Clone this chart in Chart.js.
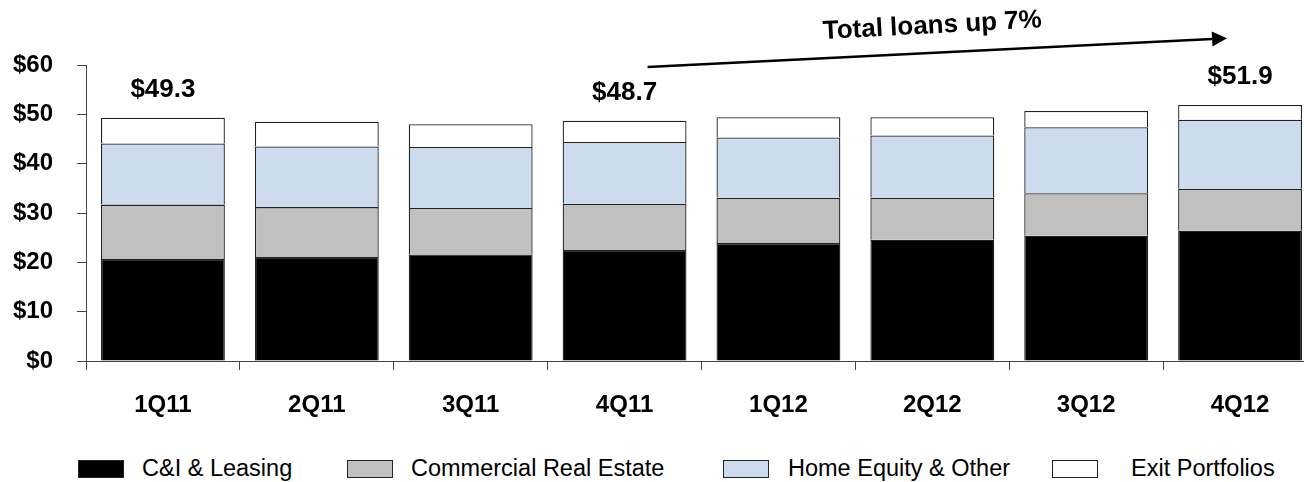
<!DOCTYPE html>
<html>
<head>
<meta charset="utf-8">
<script src="https://cdn.jsdelivr.net/npm/chart.js@4.4.1/dist/chart.umd.min.js"></script>
<style>
    html, body { margin: 0; padding: 0; background: #fff; overflow: hidden; width: 1304px; height: 482px; }
    #wrap { position: absolute; left: 0; top: 0; width: 1318px; height: 430px; }
    #legend { position: absolute; left: 0; top: 458px; width: 1304px; height: 22px; font-family: "Liberation Sans", Arial, sans-serif; font-size: 23.5px; color: #000; }
    .lg-box { position: absolute; top: 2px; width: 44px; height: 16px; border: 1px solid #222; }
    .lg-text { position: absolute; top: -2px; line-height: 24px; white-space: nowrap; }
</style>
</head>
<body>
<div id="wrap"><canvas id="loansChart"></canvas></div>
<div id="legend"></div>
<script>
const quarters = ['1Q11', '2Q11', '3Q11', '4Q11', '1Q12', '2Q12', '3Q12', '4Q12'];
const ciLeasing = [20.7, 21.1, 21.6, 22.5, 23.9, 24.6, 25.4, 26.4];
const commercialRE = [11.0, 10.1, 9.4, 9.4, 9.2, 8.5, 8.6, 8.5];
const homeEquity = [12.4, 12.3, 12.4, 12.5, 12.2, 12.6, 13.4, 14.0];
const exitPortfolios = [5.2, 5.0, 4.6, 4.3, 4.1, 3.7, 3.3, 3.0];
const yTicks = [0, 10, 20, 30, 40, 50, 60];
const totalLabelIdx = [0, 3, 7];
const arrowNote = 'Total loans up 7%';

const seriesNames = ['C&I & Leasing', 'Commercial Real Estate', 'Home Equity & Other', 'Exit Portfolios'];
const seriesColors = ['#000000', '#c0c0c0', '#ccdcee', '#ffffff'];
const seriesData = [ciLeasing, commercialRE, homeEquity, exitPortfolios];

const FONT = '"Liberation Sans", Arial, sans-serif';

// totals on top of selected bars + the growth arrow
const annotations = {
    id: 'annotations',
    afterDraw(chart) {
        const ctx = chart.ctx;
        const x = chart.scales.x;
        const y = chart.scales.y;
        ctx.save();
        ctx.fillStyle = '#000';
        ctx.font = 'bold 26px ' + FONT;
        ctx.textAlign = 'center';
        ctx.textBaseline = 'middle';
        totalLabelIdx.forEach(i => {
            const total = seriesData.reduce((s, arr) => s + arr[i], 0);
            ctx.fillText('$' + total.toFixed(1), x.getPixelForValue(i), y.getPixelForValue(total) - 28);
        });

        // arrow from 4Q11 to 4Q12
        const x0 = x.getPixelForValue(3) + 23, y0 = y.getPixelForValue(59.6);
        const x1 = x.getPixelForValue(7) - 13, y1 = y.getPixelForValue(65.4);
        const ang = Math.atan2(y1 - y0, x1 - x0);
        const headLen = 15, headW = 7.5;
        ctx.strokeStyle = '#000';
        ctx.lineWidth = 2.5;
        ctx.beginPath();
        ctx.moveTo(x0, y0);
        ctx.lineTo(x1 - headLen * Math.cos(ang), y1 - headLen * Math.sin(ang));
        ctx.stroke();
        ctx.beginPath();
        ctx.moveTo(x1, y1);
        ctx.lineTo(x1 - headLen * Math.cos(ang) + headW * Math.sin(ang), y1 - headLen * Math.sin(ang) - headW * Math.cos(ang));
        ctx.lineTo(x1 - headLen * Math.cos(ang) - headW * Math.sin(ang), y1 - headLen * Math.sin(ang) + headW * Math.cos(ang));
        ctx.closePath();
        ctx.fill();

        ctx.translate(x.getPixelForValue(5), y.getPixelForValue(67.9));
        ctx.rotate(-3.1 * Math.PI / 180);
        ctx.font = 'bold 26px ' + FONT;
        ctx.fillText(arrowNote, 0, 0);
        ctx.restore();
    }
};

const datasets = seriesNames.map((name, k) => ({
    label: name,
    data: seriesData[k],
    backgroundColor: seriesColors[k],
    borderColor: '#222',
    borderWidth: 1.3,
    barPercentage: 0.805,
    categoryPercentage: 1.0
}));

const ctx = document.getElementById('loansChart').getContext('2d');
const loansChart = new Chart(ctx, {
    type: 'bar',
    data: {
        labels: quarters,
        datasets: datasets
    },
    options: {
        responsive: true,
        maintainAspectRatio: false,
        devicePixelRatio: 1,
        animation: false,
        layout: {
            padding: { top: 65, right: 1, left: 0, bottom: 0 }
        },
        plugins: {
            legend: { display: false },
            tooltip: { enabled: false }
        },
        scales: {
            x: {
                stacked: true,
                afterFit: scale => { scale.height = 69; },
                border: { display: true, color: '#444', width: 1 },
                grid: {
                    offset: true,
                    drawOnChartArea: false,
                    drawTicks: true,
                    tickLength: 9,
                    color: '#444'
                },
                ticks: {
                    color: '#000',
                    padding: 21,
                    font: { family: FONT, size: 24, weight: 'bold' }
                }
            },
            y: {
                stacked: true,
                min: yTicks[0],
                max: yTicks[yTicks.length - 1],
                afterFit: scale => { scale.width = 86; },
                afterBuildTicks: scale => { scale.ticks = yTicks.map(v => ({ value: v })); },
                border: { display: true, color: '#444', width: 1 },
                grid: {
                    drawOnChartArea: false,
                    drawTicks: true,
                    tickLength: 9,
                    color: '#444'
                },
                ticks: {
                    color: '#000',
                    padding: 24,
                    font: { family: FONT, size: 24, weight: 'bold' },
                    callback: v => '$' + v
                }
            }
        }
    },
    plugins: [annotations]
});

// legend below the chart
const legendLeft = [78, 347, 723, 1052];
const legendGap = [18, 18, 19, 33];
const legend = document.getElementById('legend');
seriesNames.forEach((name, k) => {
    const box = document.createElement('div');
    box.className = 'lg-box';
    box.style.left = legendLeft[k] + 'px';
    box.style.background = seriesColors[k];
    legend.appendChild(box);
    const txt = document.createElement('div');
    txt.className = 'lg-text';
    txt.style.left = (legendLeft[k] + 46 + legendGap[k]) + 'px';
    txt.textContent = name;
    legend.appendChild(txt);
});
</script>
</body>
</html>
